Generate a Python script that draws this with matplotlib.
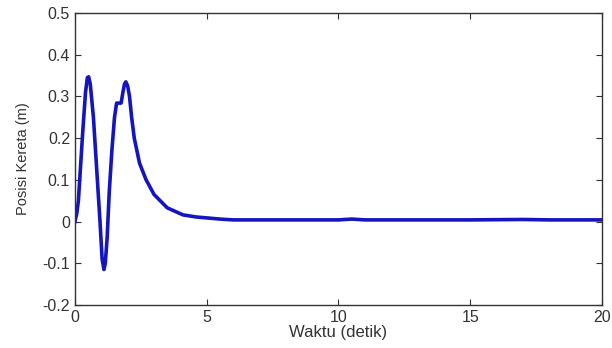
import numpy as np
import matplotlib
matplotlib.use("Agg")
import matplotlib.pyplot as plt

# waktu (detik) dan posisi kereta (m)
waktu = [0.0, 0.07, 0.13, 0.2, 0.3, 0.4, 0.47, 0.52, 0.58, 0.7, 0.85, 0.95,
         1.03, 1.1, 1.15, 1.22, 1.3, 1.4, 1.5, 1.58, 1.75, 1.82, 1.88, 1.93,
         2.0, 2.07, 2.15, 2.25, 2.45, 2.7, 3.0, 3.5, 4.1, 4.6, 5.5, 6.0,
         8.0, 10.0, 10.5, 11.0, 13.0, 15.0, 17.0, 18.0, 20.0]
posisi = [0.0, 0.02, 0.05, 0.12, 0.22, 0.31, 0.345, 0.347, 0.33, 0.25, 0.1,
          0.0, -0.09, -0.115, -0.1, -0.04, 0.07, 0.17, 0.25, 0.284, 0.284,
          0.31, 0.33, 0.335, 0.325, 0.3, 0.25, 0.2, 0.14, 0.1, 0.065, 0.033,
          0.016, 0.011, 0.006, 0.004, 0.004, 0.004, 0.006, 0.004, 0.004,
          0.004, 0.005, 0.004, 0.004]

plt.rcParams['font.family'] = ['Liberation Sans', 'DejaVu Sans']

fig = plt.figure(figsize=(6.12, 3.48), dpi=100)
ax = fig.add_axes([0.1225, 0.1236, 0.8612, 0.839])
ax.plot(waktu, posisi, color='#1414c0', linewidth=2.6)

ax.set_xlim(0, 20)
ax.set_ylim(-0.2, 0.5)
ax.set_xticks([0, 5, 10, 15, 20])
ax.set_yticks([-0.2, -0.1, 0, 0.1, 0.2, 0.3, 0.4, 0.5])
ax.set_yticklabels(['-0.2', '-0.1', '0', '0.1', '0.2', '0.3', '0.4', '0.5'])
ax.tick_params(direction='in', top=True, right=True, labelsize=11.5,
               length=4, width=0.8, colors='#333333', labelcolor='#333333')
for s in ax.spines.values():
    s.set_linewidth(1.0)
    s.set_color('#333333')

ax.set_xlabel('Waktu (detik)', fontsize=12, color='#333333', labelpad=0)
ax.set_ylabel('Posisi Kereta (m)', fontsize=10.5, color='#333333', labelpad=9)

plt.savefig("out.png", dpi=100)
